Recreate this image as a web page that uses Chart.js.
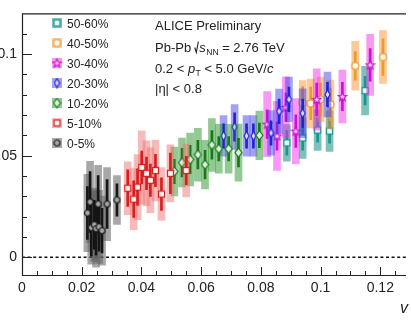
<!DOCTYPE html>
<html>
<head>
<meta charset="utf-8">
<script src="https://cdn.jsdelivr.net/npm/chart.js@4.4.1/dist/chart.umd.min.js"></script>
<style>
  html, body { margin: 0; padding: 0; background: #fff; }
  #wrap { width: 411px; height: 320px; }
</style>
</head>
<body>
<div id="wrap"><canvas id="c" width="411" height="320"></canvas></div>
<script>
const FONT = '"Liberation Sans", Arial, Helvetica, sans-serif';

// each point: [x (v2), y, stat error, syst error]
const cent0_5 = [
  [0.0219, 0.0218, 0.013, 0.019], [0.0228, 0.0272, 0.015, 0.020], [0.0232, 0.0146, 0.014, 0.018],
  [0.0242, 0.0160, 0.012, 0.018], [0.0248, 0.0141, 0.013, 0.019], [0.0255, 0.0262, 0.014, 0.019],
  [0.0258, 0.0150, 0.012, 0.018], [0.0268, 0.0131, 0.011, 0.017], [0.0285, 0.0262, 0.012, 0.018],
  [0.0318, 0.0282, 0.008, 0.012]
];
const cent5_10 = [
  [0.0354, 0.0340, 0.009, 0.013], [0.0374, 0.0286, 0.009, 0.015], [0.0387, 0.0345, 0.009, 0.016],
  [0.0401, 0.0442, 0.008, 0.018], [0.0417, 0.0413, 0.008, 0.016], [0.0430, 0.0379, 0.008, 0.016],
  [0.0447, 0.0427, 0.008, 0.015], [0.0467, 0.0311, 0.008, 0.013], [0.0497, 0.0413, 0.010, 0.014],
  [0.0550, 0.0427, 0.007, 0.013]
];
const cent10_20 = [
  [0.0510, 0.0422, 0.006, 0.012], [0.0536, 0.0466, 0.007, 0.012], [0.0563, 0.0481, 0.007, 0.013],
  [0.0589, 0.0505, 0.007, 0.013], [0.0613, 0.0456, 0.007, 0.012], [0.0636, 0.0553, 0.007, 0.013],
  [0.0659, 0.0534, 0.006, 0.012], [0.0692, 0.0534, 0.006, 0.012], [0.0725, 0.0515, 0.007, 0.014],
  [0.0795, 0.0600, 0.006, 0.012]
];
const cent20_30 = [
  [0.0675, 0.0597, 0.006, 0.010], [0.0712, 0.0641, 0.007, 0.011], [0.0752, 0.0597, 0.006, 0.010],
  [0.0775, 0.0597, 0.006, 0.010], [0.0834, 0.0612, 0.006, 0.011], [0.0861, 0.0718, 0.006, 0.011],
  [0.0894, 0.0777, 0.006, 0.011], [0.0940, 0.0709, 0.007, 0.012], [0.1023, 0.0801, 0.006, 0.011]
];
const cent30_40 = [
  [0.0821, 0.0655, 0.007, 0.016], [0.0854, 0.0597, 0.007, 0.017], [0.0884, 0.0738, 0.007, 0.015],
  [0.0917, 0.0621, 0.008, 0.016], [0.0987, 0.0777, 0.008, 0.015], [0.1073, 0.0791, 0.007, 0.013],
  [0.1166, 0.0947, 0.008, 0.015]
];
const cent40_50 = [
  [0.0940, 0.0760, 0.008, 0.011], [0.0967, 0.0757, 0.008, 0.012], [0.1000, 0.0777, 0.008, 0.011],
  [0.1033, 0.0752, 0.008, 0.012], [0.1116, 0.0942, 0.007, 0.012], [0.1209, 0.0985, 0.009, 0.013]
];
const cent50_60 = [
  [0.0887, 0.0563, 0.006, 0.009], [0.0940, 0.0587, 0.006, 0.010], [0.0990, 0.0626, 0.006, 0.010],
  [0.1030, 0.0621, 0.006, 0.010], [0.1149, 0.0820, 0.007, 0.012]
];

const classLabels = ['0-5%', '5-10%', '10-20%', '20-30%', '30-40%', '40-50%', '50-60%'];
const classData = [cent0_5, cent5_10, cent10_20, cent20_30, cent30_40, cent40_50, cent50_60];

const xTicks = [0, 0.02, 0.04, 0.06, 0.08, 0.1, 0.12];
const yTicks = [0, 0.05, 0.1];
const xRange = [0, 0.1286];
const yRange = [-0.0092, 0.12];

function markerCanvas(w, h, draw) {
  const c = document.createElement('canvas');
  c.width = w; c.height = h;
  const g = c.getContext('2d');
  g.lineWidth = 1.2;
  draw(g);
  return c;
}
function circle(fill, stroke, r, s) {
  return markerCanvas(s, s, g => {
    g.beginPath(); g.arc(s / 2, s / 2, r, 0, Math.PI * 2);
    g.fillStyle = fill; g.fill(); g.strokeStyle = stroke; g.stroke();
  });
}
function square(fill, stroke) {
  return markerCanvas(9, 9, g => {
    g.fillStyle = fill; g.fillRect(1.5, 1.5, 6, 6);
    g.strokeStyle = stroke; g.strokeRect(1.5, 1.5, 6, 6);
  });
}
function diamond(fill, stroke, w, h) {
  return markerCanvas(w, h, g => {
    g.beginPath();
    g.moveTo(w / 2, 1); g.lineTo(w - 1, h / 2); g.lineTo(w / 2, h - 1); g.lineTo(1, h / 2);
    g.closePath();
    g.fillStyle = fill; g.fill(); g.strokeStyle = stroke; g.stroke();
  });
}
function star(fill, stroke) {
  return markerCanvas(11, 11, g => {
    g.beginPath();
    for (let i = 0; i < 10; i++) {
      const r = i % 2 ? 1.9 : 4.4;
      const a = -Math.PI / 2 + i * Math.PI / 5;
      const px = 5.5 + r * Math.cos(a), py = 5.8 + r * Math.sin(a);
      i ? g.lineTo(px, py) : g.moveTo(px, py);
    }
    g.closePath();
    g.fillStyle = fill; g.fill(); g.strokeStyle = stroke; g.stroke();
  });
}

const styles = [
  { line: '#151515', box: 'rgba(95,95,95,0.55)',    marker: circle('#a5a5a5', '#1a1a1a', 3, 9) },
  { line: '#d81e1e', box: 'rgba(238,110,110,0.48)', marker: square('#fff2f2', '#d81e1e') },
  { line: '#18781a', box: 'rgba(40,150,40,0.5)',    marker: diamond('#e2f3e2', '#18781a', 9, 11) },
  { line: '#2222d6', box: 'rgba(60,60,235,0.48)',   marker: diamond('#e0e0ff', '#2222d6', 7, 11) },
  { line: '#d010d0', box: 'rgba(245,40,235,0.48)',  marker: star('#ffe0ff', '#d010d0') },
  { line: '#ec9a2c', box: 'rgba(245,150,50,0.5)',   marker: circle('#fff6ea', '#ec9a2c', 3.5, 11) },
  { line: '#1a9590', box: 'rgba(40,150,140,0.6)',   marker: square('#e8f8f7', '#1a9590') }
];

const datasets = [];
classData.forEach((pts, k) => {
  const st = styles[k];
  datasets.push({
    type: 'scatter', label: classLabels[k], order: k * 3,
    data: pts.map(p => ({ x: p[0], y: p[1] })),
    pointStyle: st.marker, pointRadius: 4
  });
  datasets.push({
    type: 'bar', order: k * 3 + 1, grouped: false, barThickness: 2,
    backgroundColor: st.line, borderWidth: 0,
    data: pts.map(p => ({ x: p[0], y: [p[1] - p[2], p[1] + p[2]] }))
  });
  datasets.push({
    type: 'bar', order: k * 3 + 2, grouped: false, barThickness: 7,
    backgroundColor: st.box, borderWidth: 0,
    data: pts.map(p => ({ x: p[0], y: [p[1] - p[3], p[1] + p[3]] }))
  });
});
datasets.push({
  type: 'line', order: 100, borderColor: '#111', borderWidth: 1.5, borderDash: [3, 2.6],
  pointRadius: 0, data: [{ x: xRange[0], y: 0 }, { x: xRange[1], y: 0 }]
});

function drawRun(ctx, x, y, parts) {
  parts.forEach(p => {
    ctx.font = `${p.italic ? 'italic ' : ''}${p.size || 13}px ${FONT}`;
    ctx.fillText(p.t, x, y + (p.dy || 0));
    x += ctx.measureText(p.t).width + (p.gap || 0);
  });
  return x;
}

const decor = {
  id: 'decor',
  beforeDraw(chart) {
    const ctx = chart.ctx;
    ctx.save();
    ctx.fillStyle = '#fff';
    ctx.fillRect(0, 0, chart.width, chart.height);
    ctx.restore();
  },
  afterDraw(chart) {
    const { ctx, chartArea: a, scales: { x, y } } = chart;
    ctx.save();
    ctx.strokeStyle = '#222';
    ctx.lineWidth = 1.2;
    ctx.beginPath();
    ctx.moveTo(a.right, a.top + 0.5); ctx.lineTo(a.left + 0.5, a.top + 0.5);
    ctx.lineTo(a.left + 0.5, a.bottom - 0.5); ctx.lineTo(a.right, a.bottom - 0.5);
    ctx.stroke();

    // inward ticks
    ctx.lineWidth = 1;
    ctx.beginPath();
    for (let i = 0; i <= 11; i++) {
      const py = Math.round(y.getPixelForValue(i / 100)) + 0.5;
      const len = i % 5 === 0 ? 10 : 5;
      ctx.moveTo(a.left, py); ctx.lineTo(a.left + len, py);
    }
    for (let i = 1; i <= 25; i++) {
      const px = Math.round(x.getPixelForValue(i * 0.005)) + 0.5;
      const len = i % 4 === 0 ? 9 : 5;
      ctx.moveTo(px, a.bottom); ctx.lineTo(px, a.bottom - len);
    }
    ctx.stroke();

    // legend
    ctx.textBaseline = 'alphabetic';
    for (let k = 6; k >= 0; k--) {
      const cy = 23 + (6 - k) * 20;
      ctx.fillStyle = styles[k].box;
      ctx.fillRect(52, cy - 5, 10, 10);
      const m = styles[k].marker;
      ctx.drawImage(m, 57 - m.width / 2, cy - m.height / 2);
      ctx.fillStyle = '#222';
      ctx.font = `12px ${FONT}`;
      ctx.fillText(classLabels[k], 67, cy + 4.5);
    }

    // text block
    ctx.fillStyle = '#222';
    drawRun(ctx, 155, 30, [{ t: 'ALICE Preliminary' }]);
    let cx = drawRun(ctx, 155, 52, [{ t: 'Pb-Pb ' }]);
    ctx.strokeStyle = '#222'; ctx.lineWidth = 1.1;
    ctx.beginPath();
    ctx.moveTo(cx, 47.5); ctx.lineTo(cx + 1.6, 52.5); ctx.lineTo(cx + 3.6, 41.5);
    ctx.stroke();
    drawRun(ctx, cx + 4.5, 52, [
      { t: 's', italic: true, gap: 0.5 }, { t: 'NN', size: 8.5, dy: 3 }, { t: ' = 2.76 TeV' }
    ]);
    drawRun(ctx, 155, 73, [
      { t: '0.2 < ' }, { t: 'p', italic: true, gap: 0.5 }, { t: 'T', size: 8.5, dy: 3 },
      { t: ' < 5.0 GeV/' }, { t: 'c', italic: true }
    ]);
    drawRun(ctx, 155, 93, [{ t: '|\u03b7| < 0.8' }]);

    // axis title (cut at the right edge)
    drawRun(ctx, 400, 313, [{ t: 'v', italic: true, size: 16 }]);
    ctx.restore();
  }
};

Chart.defaults.font.family = FONT;

const plainLabel = v => String(+v.toFixed(3));

new Chart(document.getElementById('c'), {
  type: 'scatter',
  data: { datasets },
  options: {
    responsive: false,
    animation: false,
    layout: { padding: { top: 10, right: 0, left: 0, bottom: 0 } },
    plugins: { legend: { display: false }, tooltip: { enabled: false } },
    scales: {
      x: {
        type: 'linear', min: xRange[0], max: xRange[1], offset: false,
        grid: { display: false, drawTicks: false }, border: { display: false },
        ticks: { color: '#222', font: { size: 14 }, padding: 4, maxRotation: 0, autoSkip: false, callback: plainLabel },
        afterBuildTicks: s => { s.ticks = xTicks.map(v => ({ value: v })); },
        afterFit: s => { s.height = 44; }
      },
      y: {
        type: 'linear', min: yRange[0], max: yRange[1],
        grid: { display: false, drawTicks: false }, border: { display: false },
        ticks: { color: '#222', font: { size: 14 }, padding: 5, callback: plainLabel },
        afterBuildTicks: s => { s.ticks = yTicks.map(v => ({ value: v })); },
        afterFit: s => { s.width = 22; }
      }
    }
  },
  plugins: [decor]
});
</script>
</body>
</html>
